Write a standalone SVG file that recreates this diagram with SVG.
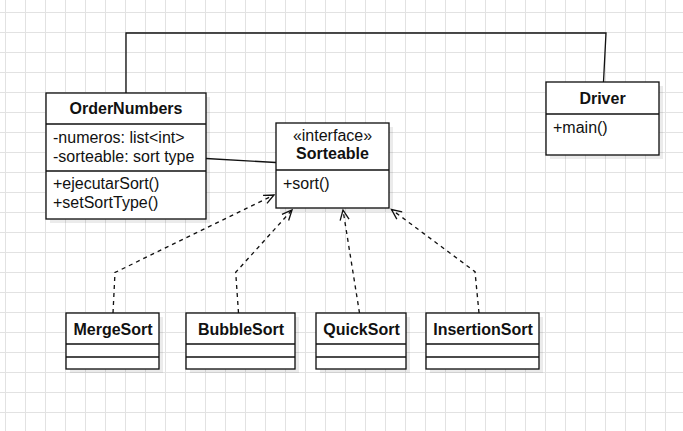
<svg xmlns="http://www.w3.org/2000/svg" width="683" height="431" viewBox="0 0 683 431">
<style>
.box{fill:#fff;stroke:#111;stroke-width:1.33}
.shadow{fill:#000;fill-opacity:0.08}
.div{stroke:#111;stroke-width:1.33;fill:none}
.t{font-family:"Liberation Sans",Arial,sans-serif;font-size:16px;fill:#111}
.b{font-weight:bold;text-anchor:middle}
.m{text-anchor:middle}
.line{fill:none;stroke:#111;stroke-width:1.33}
.dash{fill:none;stroke:#111;stroke-width:1.33;stroke-dasharray:4 4}
</style>
<defs>
<pattern id="grid" x="5" y="12" width="20" height="20" patternUnits="userSpaceOnUse">
<path d="M0.5 0V20M0 0.5H20" stroke="#e2e2e2" stroke-width="1" fill="none"/>
</pattern>
<marker id="open" markerUnits="userSpaceOnUse" markerWidth="14" markerHeight="14" viewBox="-12 -7 14 14" refX="0" refY="0" orient="auto">
<path d="M-10,-4.5L0,0L-10,4.5" fill="none" stroke="#111" stroke-width="1.33"/>
</marker>
</defs>
<rect width="683" height="431" fill="#fff"/>
<rect width="683" height="431" fill="url(#grid)"/>

<g id="connectors">
<polyline class="line" points="126,93 126,33 606,33 603.5,82"/>
<line class="line" x1="206" y1="158.5" x2="276" y2="162.5"/>
<polyline class="dash" points="113,313 115,272.5 274,195" marker-end="url(#open)"/>
<polyline class="dash" points="238.5,313 235.7,272.3 292,210" marker-end="url(#open)"/>
<polyline class="dash" points="359.5,313 343,210" marker-end="url(#open)"/>
<polyline class="dash" points="479,313 475,271.7 391.5,209.5" marker-end="url(#open)"/>
</g>

<g id="OrderNumbers">
<rect class="shadow" x="50" y="97" width="160" height="126"/>
<rect class="box" x="46" y="93" width="160" height="126"/>
<path class="div" d="M46 124H206M46 171H206"/>
<text class="t b" x="126" y="114">OrderNumbers</text>
<text class="t" x="53" y="143">-numeros: list&lt;int&gt;</text>
<text class="t" x="53" y="162">-sorteable: sort type</text>
<text class="t" x="53" y="188.5">+ejecutarSort()</text>
<text class="t" x="53" y="208">+setSortType()</text>
</g>

<g id="Sorteable">
<rect class="shadow" x="280" y="127" width="113" height="85"/>
<rect class="box" x="276" y="123" width="113" height="85"/>
<path class="div" d="M276 170H389"/>
<text class="t m" x="332.5" y="141">«interface»</text>
<text class="t b" x="332.5" y="159">Sorteable</text>
<text class="t" x="283" y="189">+sort()</text>
</g>

<g id="Driver">
<rect class="shadow" x="550" y="86" width="113" height="73"/>
<rect class="box" x="546" y="82" width="113" height="73"/>
<path class="div" d="M546 114H659"/>
<text class="t b" x="602.5" y="104">Driver</text>
<text class="t" x="553" y="133">+main()</text>
</g>

<g id="MergeSort">
<rect class="shadow" x="70" y="317" width="93" height="56"/>
<rect class="box" x="66" y="313" width="93" height="56"/>
<path class="div" d="M66 344H159M66 357H159"/>
<text class="t b" x="113" y="334.5">MergeSort</text>
</g>

<g id="BubbleSort">
<rect class="shadow" x="190" y="317" width="109" height="56"/>
<rect class="box" x="186" y="313" width="109" height="56"/>
<path class="div" d="M186 344H295M186 357H295"/>
<text class="t b" x="241" y="334.5">BubbleSort</text>
</g>

<g id="QuickSort">
<rect class="shadow" x="320" y="317" width="90" height="56"/>
<rect class="box" x="316" y="313" width="90" height="56"/>
<path class="div" d="M316 344H406M316 357H406"/>
<text class="t b" x="361.5" y="334.5">QuickSort</text>
</g>

<g id="InsertionSort">
<rect class="shadow" x="430" y="317" width="113" height="56"/>
<rect class="box" x="426" y="313" width="113" height="56"/>
<path class="div" d="M426 344H539M426 357H539"/>
<text class="t b" x="483" y="334.5">InsertionSort</text>
</g>
</svg>
